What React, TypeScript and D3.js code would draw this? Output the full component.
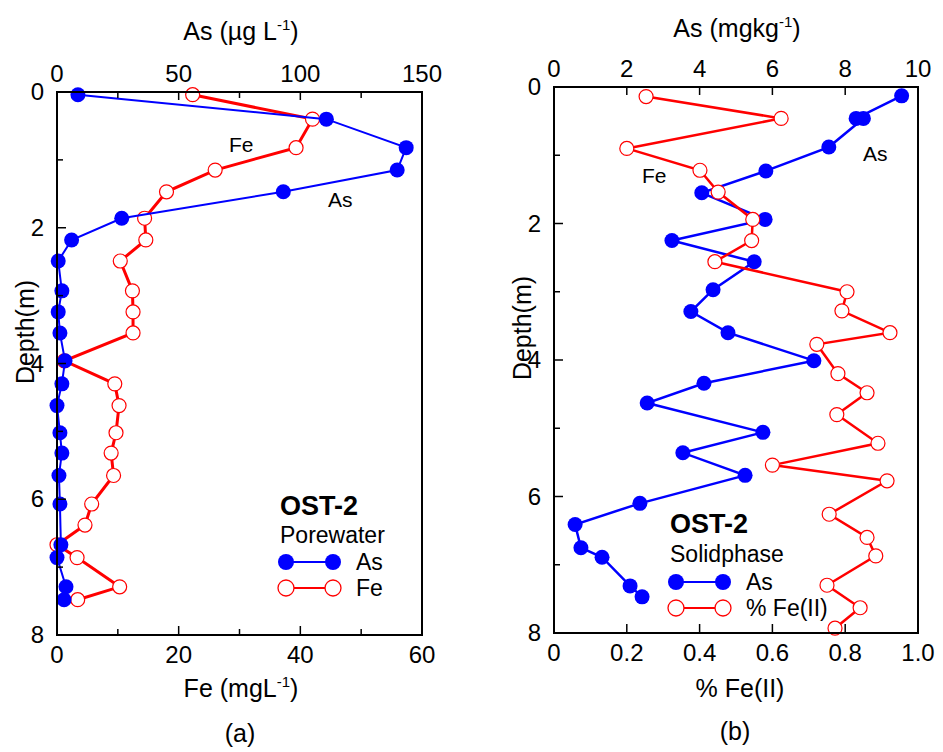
import React from "react";
import * as d3 from "d3";

// panel (a) porewater
const asDepthA = [0.04, 0.4, 0.82, 1.15, 1.47, 1.86, 2.18, 2.49, 2.93, 3.24, 3.55, 3.96, 4.3, 4.62, 5.02, 5.32, 5.65, 6.07, 6.67, 6.86, 7.29, 7.48];
const asPore = [8.6, 110.7, 143.5, 139.8, 93, 26.6, 6, 0.5, 2, 0.5, 1.2, 3.3, 2, 0, 1.2, 2, 0.8, 1.2, 1.6, 0, 3.7, 2.9];
const feDepthA = [0.04, 0.4, 0.82, 1.15, 1.47, 1.86, 2.18, 2.49, 2.93, 3.24, 3.55, 3.96, 4.3, 4.62, 5.02, 5.32, 5.65, 6.07, 6.38, 6.67, 6.86, 7.29, 7.48];
const fePore = [22.3, 42, 39.3, 26, 18, 14.4, 14.6, 10.4, 12.4, 12.5, 12.5, 1.2, 9.5, 10.2, 9.7, 8.9, 9.3, 5.7, 4.6, 0, 3.3, 10.3, 3.4];

// panel (b) solid phase
const asDepthB = [0.13, 0.46, 0.46, 0.88, 1.23, 1.55, 1.94, 2.25, 2.56, 2.97, 3.29, 3.6, 4.01, 4.34, 4.63, 5.06, 5.36, 5.69, 6.1, 6.41, 6.75, 6.89, 7.31, 7.47];
const asSolid = [9.55, 8.3, 8.5, 7.55, 5.82, 4.06, 5.8, 3.24, 5.5, 4.37, 3.76, 4.78, 7.14, 4.12, 2.56, 5.74, 3.54, 5.25, 2.36, 0.58, 0.74, 1.32, 2.09, 2.42];
const feDepthB = [0.14, 0.46, 0.9, 1.22, 1.54, 1.94, 2.25, 2.56, 3.0, 3.28, 3.6, 3.77, 4.2, 4.48, 4.8, 5.22, 5.54, 5.77, 6.26, 6.6, 6.87, 7.3, 7.63, 7.93];
const feII = [0.253, 0.624, 0.2, 0.401, 0.451, 0.546, 0.543, 0.442, 0.805, 0.791, 0.923, 0.722, 0.78, 0.86, 0.777, 0.89, 0.6, 0.915, 0.756, 0.86, 0.884, 0.75, 0.841, 0.772];

const depthTicks = [0, 2, 4, 6, 8];
const depthMinor = [1, 3, 5, 7];

const FONT = "'Liberation Sans', Arial, sans-serif";
const BLUE = "#0000ff";
const RED = "#ff0000";

type Series = { depth: number[]; vals: number[]; filled: boolean; width: number };

const Sup = ({ children }: { children: string }) => (
  <tspan fontSize={15} dy={-10}>{children}</tspan>
);

function Panel(props: {
  x0: number; x1: number; y0: number; y1: number;
  topMax: number; topTicks: number[]; topMinor: number[]; topFmt: (v: number) => string;
  botMax: number; botTicks: number[]; botMinor: number[]; botFmt: (v: number) => string;
  topSeries: Series; botSeries: Series; blueFirst: boolean;
}) {
  const { x0, x1, y0, y1 } = props;
  const y = d3.scaleLinear().domain([0, 8]).range([y0, y1]);
  const xt = d3.scaleLinear().domain([0, props.topMax]).range([x0, x1]);
  const xb = d3.scaleLinear().domain([0, props.botMax]).range([x0, x1]);

  const drawSeries = (s: Series, sc: d3.ScaleLinear<number, number>, color: string, key: string) => {
    const pts = s.vals.map((v, i) => [sc(v), y(s.depth[i])] as [number, number]);
    const line = d3.line()(pts) || "";
    return (
      <g key={key}>
        <path d={line} fill="none" stroke={color} strokeWidth={s.width} />
        {pts.map((p, i) => (
          <circle key={i} cx={p[0]} cy={p[1]} r={s.filled ? 7.5 : 7}
            fill={s.filled ? color : "#fff"} stroke={color} strokeWidth={s.filled ? 0 : 1.2} />
        ))}
      </g>
    );
  };

  const blue = drawSeries(props.topSeries, xt, BLUE, "b");
  const red = drawSeries(props.botSeries, xb, RED, "r");

  return (
    <g fontFamily={FONT}>
      {props.blueFirst ? [blue, red] : [red, blue]}
      <rect x={x0} y={y0} width={x1 - x0} height={y1 - y0} fill="none" stroke="#000" strokeWidth={2} />
      {props.topTicks.map((t) => (
        <g key={"tt" + t}>
          <line x1={xt(t)} x2={xt(t)} y1={y0} y2={y0 + 8} stroke="#000" strokeWidth={1.5} />
          <text x={xt(t)} y={y0 - 10} textAnchor="middle" fontSize={24}>{props.topFmt(t)}</text>
        </g>
      ))}
      {props.topMinor.map((t) => (
        <line key={"tm" + t} x1={xt(t)} x2={xt(t)} y1={y0} y2={y0 + 6} stroke="#000" strokeWidth={1.5} />
      ))}
      {props.botTicks.map((t) => (
        <g key={"bt" + t}>
          <line x1={xb(t)} x2={xb(t)} y1={y1} y2={y1 - 9} stroke="#000" strokeWidth={1.5} />
          <text x={xb(t)} y={y1 + 28} textAnchor="middle" fontSize={24}>{props.botFmt(t)}</text>
        </g>
      ))}
      {props.botMinor.map((t) => (
        <line key={"bm" + t} x1={xb(t)} x2={xb(t)} y1={y1} y2={y1 - 6} stroke="#000" strokeWidth={1.5} />
      ))}
      {depthTicks.map((t) => (
        <g key={"d" + t}>
          <line x1={x0} x2={x0 + 9} y1={y(t)} y2={y(t)} stroke="#000" strokeWidth={1.5} />
          <text x={x0 - 13} y={y(t) + 8} textAnchor="end" fontSize={24}>{t}</text>
        </g>
      ))}
      {depthMinor.map((t) => (
        <line key={"dm" + t} x1={x0} x2={x0 + 6} y1={y(t)} y2={y(t)} stroke="#000" strokeWidth={1.5} />
      ))}
    </g>
  );
}

const LegendRow = ({ x, y, filled, color, label }: { x: number; y: number; filled: boolean; color: string; label: string }) => (
  <g>
    <line x1={x} x2={x + 47} y1={y} y2={y} stroke={color} strokeWidth={2} />
    {[x, x + 47].map((cx) => (
      <circle key={cx} cx={cx} cy={y} r={8} fill={filled ? color : "#fff"} stroke={color} strokeWidth={filled ? 0 : 1.3} />
    ))}
    <text x={x + 70} y={y + 8} fontSize={23}>{label}</text>
  </g>
);

export default function App() {
  return (
    <svg width={943} height={752} style={{ position: "absolute", left: 0, top: 0, background: "#fff" }} fontFamily={FONT}>
      <Panel
        x0={57} x1={422} y0={92} y1={635}
        topMax={150} topTicks={[0, 50, 100, 150]} topMinor={[25, 75, 125]} topFmt={(v) => String(v)}
        botMax={60} botTicks={[0, 20, 40, 60]} botMinor={[10, 30, 50]} botFmt={(v) => String(v)}
        topSeries={{ depth: asDepthA, vals: asPore, filled: true, width: 2 }}
        botSeries={{ depth: feDepthA, vals: fePore, filled: false, width: 3 }}
        blueFirst={false}
      />
      <Panel
        x0={554} x1={918} y0={87} y1={633}
        topMax={10} topTicks={[0, 2, 4, 6, 8, 10]} topMinor={[]} topFmt={(v) => String(v)}
        botMax={1} botTicks={[0, 0.2, 0.4, 0.6, 0.8, 1]} botMinor={[]} botFmt={(v) => (v === 0 ? "0" : d3.format(".1f")(v))}
        topSeries={{ depth: asDepthB, vals: asSolid, filled: true, width: 2.5 }}
        botSeries={{ depth: feDepthB, vals: feII, filled: false, width: 2.5 }}
        blueFirst={true}
      />

      {/* axis titles */}
      <text x={241} y={40} textAnchor="middle" fontSize={25}>As (µg L<Sup>-1</Sup><tspan dy={10}>)</tspan></text>
      <text x={241} y={697} textAnchor="middle" fontSize={25}>Fe (mgL<Sup>-1</Sup><tspan dy={10}>)</tspan></text>
      <text x={240} y={742} textAnchor="middle" fontSize={25}>(a)</text>
      <text x={737} y={37} textAnchor="middle" fontSize={25}>As (mgkg<Sup>-1</Sup><tspan dy={10}>)</tspan></text>
      <text x={740} y={697} textAnchor="middle" fontSize={25}>% Fe(II)</text>
      <text x={735} y={740} textAnchor="middle" fontSize={25}>(b)</text>
      <text transform="translate(34,332) rotate(-90)" textAnchor="middle" fontSize={25}>Depth(m)</text>
      <text transform="translate(531,328) rotate(-90)" textAnchor="middle" fontSize={25}>Depth(m)</text>

      {/* in-plot labels */}
      <text x={229} y={152} fontSize={21}>Fe</text>
      <text x={328} y={207} fontSize={21}>As</text>
      <text x={642} y={183} fontSize={21}>Fe</text>
      <text x={863} y={161} fontSize={21}>As</text>

      {/* legends */}
      <text x={280} y={515} fontSize={27} fontWeight="bold">OST-2</text>
      <text x={280} y={543} fontSize={23}>Porewater</text>
      <LegendRow x={286} y={562} filled color={BLUE} label="As" />
      <LegendRow x={286} y={588} filled={false} color={RED} label="Fe" />

      <text x={670} y={533} fontSize={27} fontWeight="bold">OST-2</text>
      <text x={670} y={562} fontSize={23}>Solidphase</text>
      <LegendRow x={676} y={582} filled color={BLUE} label="As" />
      <LegendRow x={676} y={608} filled={false} color={RED} label="% Fe(II)" />
    </svg>
  );
}
